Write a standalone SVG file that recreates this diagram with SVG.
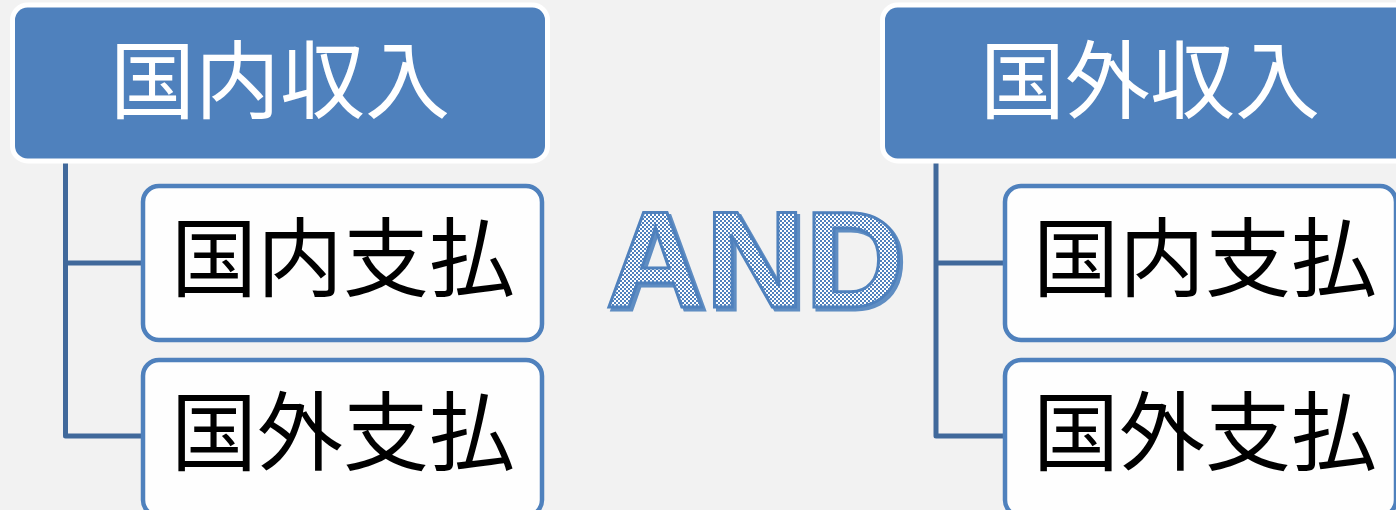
<svg xmlns="http://www.w3.org/2000/svg" width="1396" height="510" viewBox="0 0 1396 510">
<defs>
<pattern id="chk" width="4" height="4" patternUnits="userSpaceOnUse">
<rect width="4" height="4" fill="#ffffff"/>
<rect width="2" height="2" fill="#4f81bd"/>
<rect x="2" y="2" width="2" height="2" fill="#4f81bd"/>
</pattern>
<filter id="shadow" x="-10%" y="-10%" width="120%" height="130%">
<feDropShadow dx="3" dy="3" stdDeviation="0.6" flood-color="#4f81bd" flood-opacity="0.9"/>
</filter>
<style>
.hdr{fill:#4f81bd;stroke:#ffffff;stroke-width:5}
.child{fill:#fefefe;stroke:#4f81bd;stroke-width:4.5}
.conn{fill:none;stroke:#41699b;stroke-width:5;stroke-linejoin:round}
.ht{font-family:"Noto Sans CJK JP","Noto Sans CJK SC",sans-serif;font-size:85px;fill:#ffffff;text-anchor:middle;dominant-baseline:central}
.ct{font-family:"Noto Sans CJK JP","Noto Sans CJK SC",sans-serif;font-size:86px;fill:#000000;text-anchor:middle;dominant-baseline:central}
.and{font-family:"Liberation Sans",Arial,sans-serif;font-weight:bold;font-size:138px;text-anchor:middle}
</style>
</defs>
<rect width="1396" height="510" fill="#f2f2f2"/>
<g id="connectors">
<path class="conn" d="M65.5,162 V436 H143 M65.5,263 H143"/>
<path class="conn" d="M936,162 V436 H1005 M936,263 H1005"/>
</g>
<g id="left-header">
<rect class="hdr" x="12.5" y="5" width="535" height="156" rx="15"/>
<text class="ht" x="280" y="74">国内収入</text>
</g>
<g id="left-child-1">
<rect class="child" x="143" y="186" width="399" height="154" rx="16"/>
<text class="ct" x="343" y="252">国内支払</text>
</g>
<g id="left-child-2">
<rect class="child" x="143" y="360" width="399" height="156" rx="16"/>
<text class="ct" x="343" y="426">国外支払</text>
</g>
<g id="and-label">
<text class="and" x="755" y="307" fill="url(#chk)" stroke="#4f81bd" stroke-width="3" filter="url(#shadow)">AND</text>
</g>
<g id="right-header">
<rect class="hdr" x="882.5" y="5" width="535" height="156" rx="15"/>
<text class="ht" x="1150" y="74">国外収入</text>
</g>
<g id="right-child-1">
<rect class="child" x="1005" y="186" width="391" height="154" rx="16"/>
<text class="ct" x="1205" y="252">国内支払</text>
</g>
<g id="right-child-2">
<rect class="child" x="1005" y="360" width="391" height="156" rx="16"/>
<text class="ct" x="1205" y="426">国外支払</text>
</g>
</svg>
